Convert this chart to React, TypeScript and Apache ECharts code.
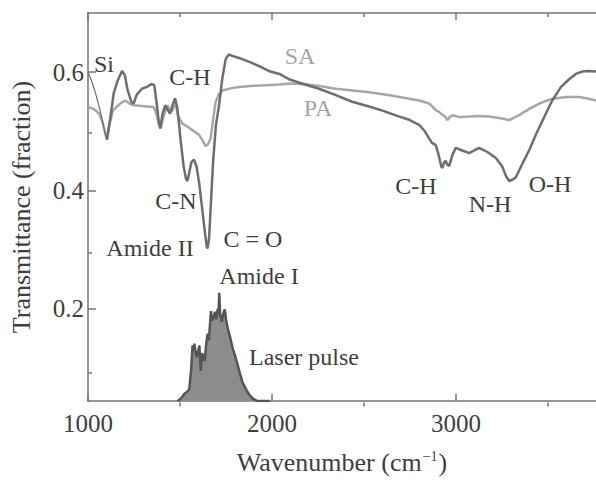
import React, { useEffect, useRef } from 'react';
import * as echarts from 'echarts';

// Thin leading segment of the SA curve (Si dip)
const siWavenumbers = [1000, 1020, 1045, 1070, 1090, 1103];
const siValues = [0.600, 0.585, 0.560, 0.530, 0.500, 0.486];

// SA spectrum (dark curve)
const saWavenumbers = [
  1103, 1120, 1140, 1160, 1185, 1200, 1215, 1235, 1248, 1265, 1293, 1320, 1345, 1360, 1372, 1385, 1393,
  1405, 1420, 1435, 1446, 1460, 1473, 1485, 1495, 1505, 1520, 1532, 1540, 1550, 1562, 1576, 1590, 1605,
  1620, 1635, 1645, 1650, 1658, 1668, 1680, 1695, 1712, 1730, 1748, 1765, 1780, 1820, 1880, 1930, 1990,
  2040, 2092, 2170, 2255, 2340, 2435, 2527, 2600, 2672, 2740, 2799, 2830, 2853, 2870, 2889, 2905, 2920,
  2926, 2935, 2943, 2952, 2962, 2980, 2998, 3030, 3071, 3100, 3125, 3170, 3216, 3250, 3270, 3288, 3305,
  3324, 3360, 3400, 3433, 3480, 3522, 3570, 3614, 3650, 3685, 3720, 3760,
];
const saValues = [
  0.486, 0.520, 0.565, 0.585, 0.602, 0.595, 0.570, 0.550, 0.547, 0.562, 0.572, 0.575, 0.580, 0.578, 0.550, 0.515, 0.505,
  0.530, 0.544, 0.535, 0.530, 0.545, 0.556, 0.540, 0.510, 0.480, 0.440, 0.420, 0.416, 0.430, 0.448, 0.452, 0.440, 0.410,
  0.370, 0.330, 0.305, 0.302, 0.320, 0.380, 0.450, 0.510, 0.544, 0.590, 0.622, 0.630, 0.628, 0.624, 0.617, 0.610, 0.601,
  0.597, 0.588, 0.580, 0.572, 0.562, 0.550, 0.542, 0.535, 0.527, 0.520, 0.511, 0.500, 0.488, 0.480, 0.477, 0.460, 0.440,
  0.438, 0.448, 0.450, 0.444, 0.441, 0.460, 0.472, 0.468, 0.463, 0.468, 0.472, 0.465, 0.455, 0.441, 0.425, 0.416, 0.418,
  0.422, 0.445, 0.470, 0.494, 0.525, 0.552, 0.575, 0.588, 0.597, 0.601, 0.602, 0.601,
];

// PA spectrum (light curve)
const paWavenumbers = [
  1000, 1030, 1060, 1080, 1095, 1103, 1115, 1135, 1158, 1180, 1202, 1225, 1248, 1280, 1320, 1357, 1372,
  1385, 1395, 1410, 1431, 1446, 1460, 1473, 1490, 1513, 1540, 1567, 1603, 1620, 1639, 1652, 1666, 1680,
  1693, 1710, 1730, 1780, 1821, 1900, 1970, 2038, 2100, 2165, 2250, 2346, 2440, 2527, 2640, 2745, 2800,
  2853, 2870, 2889, 2910, 2926, 2940, 2953, 2965, 2980, 3020, 3071, 3120, 3179, 3240, 3288, 3340, 3397,
  3460, 3522, 3600, 3668, 3720, 3760,
];
const paValues = [
  0.541, 0.538, 0.530, 0.515, 0.495, 0.486, 0.510, 0.535, 0.542, 0.548, 0.552, 0.547, 0.544, 0.543, 0.542, 0.541, 0.530,
  0.512, 0.505, 0.525, 0.544, 0.535, 0.535, 0.550, 0.525, 0.513, 0.508, 0.502, 0.494, 0.486, 0.475, 0.478, 0.488, 0.520,
  0.549, 0.562, 0.569, 0.573, 0.575, 0.577, 0.578, 0.579, 0.581, 0.580, 0.577, 0.572, 0.569, 0.566, 0.561, 0.555, 0.552,
  0.547, 0.542, 0.536, 0.532, 0.528, 0.525, 0.519, 0.524, 0.527, 0.524, 0.525, 0.526, 0.525, 0.522, 0.519, 0.527, 0.538,
  0.548, 0.555, 0.558, 0.558, 0.555, 0.552,
];

// Laser pulse spectrum
const pulseWavenumbers = [
  1487, 1500, 1515, 1523, 1540, 1550, 1560, 1568, 1574, 1578, 1584, 1590, 1598, 1605, 1613, 1620, 1627,
  1634, 1642, 1650, 1656, 1662, 1668, 1675, 1683, 1690, 1698, 1705, 1709, 1713, 1718, 1727, 1735, 1743,
  1750, 1758, 1765, 1772, 1786, 1798, 1813, 1826, 1840, 1852, 1865, 1876, 1895, 1921, 1960, 1987,
];
const pulseValues = [
  0.044, 0.047, 0.052, 0.056, 0.060, 0.064, 0.095, 0.138, 0.128, 0.141, 0.128, 0.118, 0.126, 0.138, 0.095, 0.125, 0.116,
  0.112, 0.140, 0.158, 0.146, 0.170, 0.196, 0.180, 0.185, 0.195, 0.182, 0.200, 0.190, 0.227, 0.190, 0.178, 0.192, 0.199,
  0.182, 0.168, 0.160, 0.152, 0.133, 0.122, 0.105, 0.090, 0.075, 0.068, 0.060, 0.055, 0.048, 0.044, 0.044, 0.044,
];

// Axis ticks
const xMajorTicks = [1000, 2000, 3000];
const xMinorTicks = [1500, 2500, 3500];
const yMajorTicks = [0.2, 0.4, 0.6];
const yMinorTicks = [0.1, 0.3, 0.5];

const X_MIN = 1000;
const X_MAX = 3760;
const Y_MIN = 0.044;
const Y_MAX = 0.7;

const zip = (xs: number[], ys: number[]) => xs.map((x, i) => [x, ys[i]]);

const AXIS_COLOR = '#747474';
const TEXT_COLOR = '#3e3e3e';
const LIGHT_TEXT = '#a4a4a4';
const FONT = '"Liberation Serif", "DejaVu Serif", serif';

export default function App() {
  const ref = useRef<HTMLDivElement>(null);

  useEffect(() => {
    if (!ref.current) return;
    const chart = echarts.init(ref.current, null, { renderer: 'svg' });

    const gridBox = { left: 88, top: 13, width: 508, height: 393.6 };
    const axisLine = { show: true, lineStyle: { color: AXIS_COLOR, width: 1.5 } };
    const tickStyle = { color: AXIS_COLOR, width: 1.5 };

    const label = (text: string, x: number, y: number, color = TEXT_COLOR, size = 24) => ({
      type: 'text',
      x,
      y,
      style: {
        text,
        fill: color,
        font: `${size}px ${FONT}`,
        align: 'center',
        verticalAlign: 'middle',
        textAlign: 'center',
        textVerticalAlign: 'middle',
      },
      z: 100,
    });

    chart.setOption({
      animation: false,
      backgroundColor: '#ffffff',
      textStyle: { fontFamily: FONT },
      grid: [
        { ...gridBox, containLabel: false },
        { ...gridBox, containLabel: false },
      ],
      xAxis: [
        {
          type: 'value',
          gridIndex: 0,
          position: 'bottom',
          min: X_MIN,
          max: X_MAX,
          axisLine,
          splitLine: { show: false },
          axisTick: { show: true, inside: true, length: 7, lineStyle: tickStyle, customValues: xMajorTicks },
          axisLabel: {
            show: true,
            customValues: xMajorTicks,
            formatter: (v: number) => String(v),
            color: TEXT_COLOR,
            fontSize: 25,
            fontFamily: FONT,
            margin: 10,
          },
          name: 'Wavenumber (cm{sup|−1})',
          nameLocation: 'middle',
          nameGap: 48,
          nameTextStyle: {
            color: TEXT_COLOR,
            fontSize: 26,
            fontFamily: FONT,
            rich: {
              sup: { fontSize: 14, fontFamily: FONT, color: TEXT_COLOR, verticalAlign: 'top', padding: [0, 1, 8, 1] },
            },
          },
        },
        {
          type: 'value',
          gridIndex: 0,
          position: 'top',
          min: X_MIN,
          max: X_MAX,
          axisLine,
          splitLine: { show: false },
          axisTick: { show: true, inside: true, length: 7, lineStyle: tickStyle, customValues: xMajorTicks },
          axisLabel: { show: false },
        },
        {
          type: 'value',
          gridIndex: 1,
          position: 'bottom',
          min: X_MIN,
          max: X_MAX,
          axisLine: { show: false },
          splitLine: { show: false },
          axisTick: { show: true, inside: true, length: 4, lineStyle: tickStyle, customValues: xMinorTicks },
          axisLabel: { show: false },
        },
        {
          type: 'value',
          gridIndex: 1,
          position: 'top',
          min: X_MIN,
          max: X_MAX,
          axisLine: { show: false },
          splitLine: { show: false },
          axisTick: { show: true, inside: true, length: 4, lineStyle: tickStyle, customValues: xMinorTicks },
          axisLabel: { show: false },
        },
      ],
      yAxis: [
        {
          type: 'value',
          gridIndex: 0,
          position: 'left',
          min: Y_MIN,
          max: Y_MAX,
          axisLine,
          splitLine: { show: false },
          axisTick: { show: true, inside: true, length: 8, lineStyle: tickStyle, customValues: yMajorTicks },
          axisLabel: {
            show: true,
            customValues: yMajorTicks,
            formatter: (v: number) => v.toFixed(1),
            color: TEXT_COLOR,
            fontSize: 25,
            fontFamily: FONT,
            margin: 4,
          },
          name: 'Transmittance (fraction)',
          nameLocation: 'middle',
          nameGap: 54,
          nameRotate: 90,
          nameTextStyle: { color: TEXT_COLOR, fontSize: 26, fontFamily: FONT },
        },
        {
          type: 'value',
          gridIndex: 1,
          position: 'left',
          min: Y_MIN,
          max: Y_MAX,
          axisLine: { show: false },
          splitLine: { show: false },
          axisTick: { show: true, inside: true, length: 4, lineStyle: tickStyle, customValues: yMinorTicks },
          axisLabel: { show: false },
        },
      ],
      series: [
        {
          name: 'Laser pulse',
          type: 'line',
          xAxisIndex: 0,
          yAxisIndex: 0,
          data: zip(pulseWavenumbers, pulseValues),
          showSymbol: false,
          lineStyle: { color: '#555555', width: 2.5 },
          areaStyle: { color: '#8c8c8c', opacity: 1, origin: 'start' },
          z: 2,
        },
        {
          name: 'PA',
          type: 'line',
          xAxisIndex: 0,
          yAxisIndex: 0,
          data: zip(paWavenumbers, paValues),
          showSymbol: false,
          lineStyle: { color: '#a6a6a6', width: 2.5 },
          z: 3,
        },
        {
          name: 'SA-Si',
          type: 'line',
          xAxisIndex: 0,
          yAxisIndex: 0,
          data: zip(siWavenumbers, siValues),
          showSymbol: false,
          lineStyle: { color: '#6e6e6e', width: 1.2 },
          z: 4,
        },
        {
          name: 'SA',
          type: 'line',
          xAxisIndex: 0,
          yAxisIndex: 0,
          data: zip(saWavenumbers, saValues),
          showSymbol: false,
          lineStyle: { color: '#6e6e6e', width: 2.5 },
          z: 4,
        },
      ],
      graphic: [
        label('Si', 104, 64),
        label('C-H', 190, 77),
        label('SA', 300, 56, LIGHT_TEXT),
        label('PA', 318, 108, LIGHT_TEXT),
        label('C-N', 176, 201),
        label('Amide II', 150, 248),
        label('C = O', 253, 239),
        label('Amide I', 259, 276),
        label('Laser pulse', 304, 357),
        label('C-H', 416, 186),
        label('N-H', 490, 204),
        label('O-H', 550, 184),
      ],
    });

    return () => chart.dispose();
  }, []);

  return (
    <div
      ref={ref}
      style={{ position: 'fixed', left: 0, top: 0, width: 596, height: 480, background: '#fff' }}
    />
  );
}
